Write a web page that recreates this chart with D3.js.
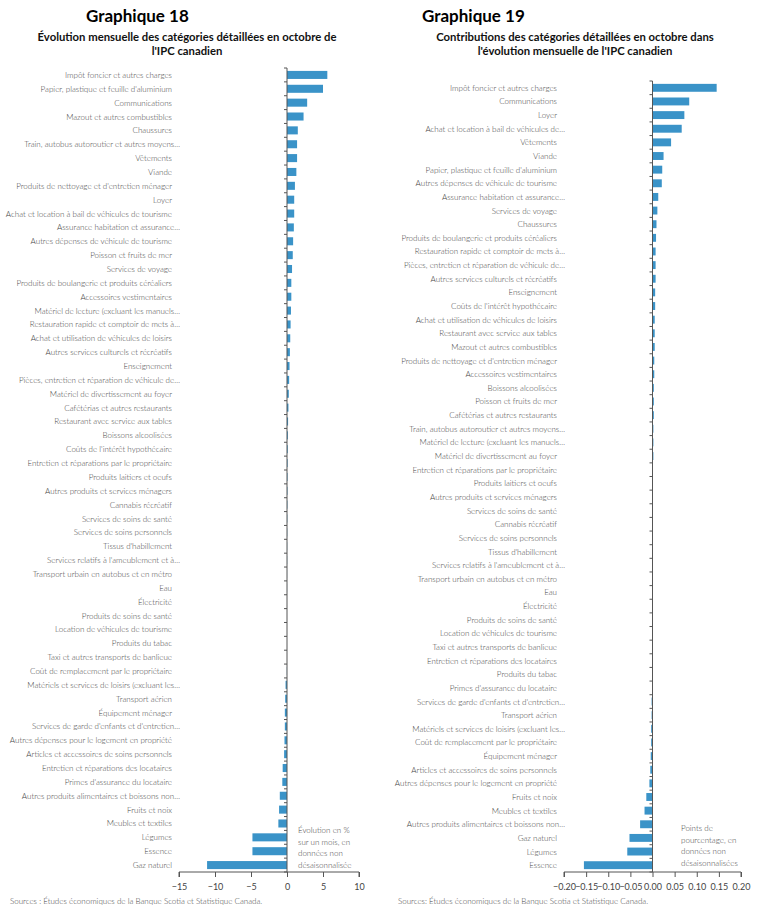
<!DOCTYPE html>
<html><head><meta charset="utf-8">
<script src="https://cdn.jsdelivr.net/npm/d3@7"></script>
<style>body{margin:0;background:#fff;font-family:Lato,"Open Sans",sans-serif}</style>
</head><body><div id="chart"></div>
<script>
// Graphique 18 data
var cats18 = ["Impôt foncier et autres charges","Papier, plastique et feuille d'aluminium","Communications","Mazout et autres combustibles","Chaussures","Train, autobus autoroutier et autres moyens…","Vêtements","Viande","Produits de nettoyage et d'entretien ménager","Loyer","Achat et location à bail de véhicules de tourisme","Assurance habitation et assurance…","Autres dépenses de véhicule de tourisme","Poisson et fruits de mer","Services de voyage","Produits de boulangerie et produits céréaliers","Accessoires vestimentaires","Matériel de lecture (excluant les manuels…","Restauration rapide et comptoir de mets à…","Achat et utilisation de véhicules de loisirs","Autres services culturels et récréatifs","Enseignement","Pièces, entretien et réparation de véhicule de…","Matériel de divertissement au foyer","Cafétérias et autres restaurants","Restaurant avec service aux tables","Boissons alcoolisées","Coûts de l'intérêt hypothécaire","Entretien et réparations par le propriétaire","Produits laitiers et oeufs","Autres produits et services ménagers","Cannabis récréatif","Services de soins de santé","Services de soins personnels","Tissus d'habillement","Services relatifs à l'ameublement et à…","Transport urbain en autobus et en métro","Eau","Électricité","Produits de soins de santé","Location de véhicules de tourisme","Produits du tabac","Taxi et autres transports de banlieue","Coût de remplacement par le propriétaire","Matériels et services de loisirs (excluant les…","Transport aérien","Équipement ménager","Services de garde d'enfants et d'entretien…","Autres dépenses pour le logement en propriété","Articles et accessoires de soins personnels","Entretien et réparations des locataires","Primes d'assurance du locataire","Autres produits alimentaires et boissons non…","Fruits et noix","Meubles et textiles","Légumes","Essence","Gaz naturel"];
var vals18 = [5.6,5.0,2.8,2.3,1.5,1.4,1.4,1.3,1.1,1.0,1.0,0.95,0.85,0.8,0.7,0.6,0.6,0.55,0.5,0.45,0.4,0.35,0.3,0.25,0.2,0.15,0.12,0.1,0.08,0.07,0.06,0.05,0.04,0.03,0.02,0.02,0.01,0.01,0,0,0,0,0,-0.02,-0.2,-0.25,-0.3,-0.3,-0.35,-0.4,-0.6,-0.65,-1.0,-1.1,-1.2,-4.8,-4.8,-11.1];
var ticks18 = [-15,-10,-5,0,5,10];

// Graphique 19 data
var cats19 = ["Impôt foncier et autres charges","Communications","Loyer","Achat et location à bail de véhicules de…","Vêtements","Viande","Papier, plastique et feuille d'aluminium","Autres dépenses de véhicule de tourisme","Assurance habitation et assurance…","Services de voyage","Chaussures","Produits de boulangerie et produits céréaliers","Restauration rapide et comptoir de mets à…","Pièces, entretien et réparation de véhicule de…","Autres services culturels et récréatifs","Enseignement","Coûts de l'intérêt hypothécaire","Achat et utilisation de véhicules de loisirs","Restaurant avec service aux tables","Mazout et autres combustibles","Produits de nettoyage et d'entretien ménager","Accessoires vestimentaires","Boissons alcoolisées","Poisson et fruits de mer","Cafétérias et autres restaurants","Train, autobus autoroutier et autres moyens…","Matériel de lecture (excluant les manuels…","Matériel de divertissement au foyer","Entretien et réparations par le propriétaire","Produits laitiers et oeufs","Autres produits et services ménagers","Services de soins de santé","Cannabis récréatif","Services de soins personnels","Tissus d'habillement","Services relatifs à l'ameublement et à…","Transport urbain en autobus et en métro","Eau","Électricité","Produits de soins de santé","Location de véhicules de tourisme","Taxi et autres transports de banlieue","Entretien et réparations des locataires","Produits du tabac","Primes d'assurance du locataire","Services de garde d'enfants et d'entretien…","Transport aérien","Matériels et services de loisirs (excluant les…","Coût de remplacement par le propriétaire","Équipement ménager","Articles et accessoires de soins personnels","Autres dépenses pour le logement en propriété","Fruits et noix","Meubles et textiles","Autres produits alimentaires et boissons non…","Gaz naturel","Légumes","Essence"];
var vals19 = [0.145,0.083,0.072,0.066,0.042,0.025,0.022,0.021,0.013,0.011,0.009,0.008,0.007,0.007,0.007,0.006,0.006,0.005,0.005,0.005,0.004,0.004,0.003,0.003,0.003,0.002,0.002,0.002,0.001,0.001,0.001,0.001,0.001,0.0005,0.0005,0.0003,0.0002,0.0001,0,0,0,0,-0.0003,-0.0003,-0.0005,-0.002,-0.002,-0.003,-0.003,-0.004,-0.005,-0.007,-0.014,-0.018,-0.028,-0.052,-0.057,-0.155];
var ticks19 = [-0.20,-0.15,-0.10,-0.05,0,0.05,0.10,0.15,0.20];

var svg = d3.select("#chart").append("svg").attr("width",760).attr("height",919);

function drawPanel(o){
  var x = d3.scaleLinear().domain(o.domain).range([o.x0,o.x1]);
  var y = d3.scaleBand().domain(o.cats).range([o.y0,o.y1]).paddingInner(0.42).paddingOuter(0.21);
  var g = svg.append("g");
  g.append("text").attr("x",o.titleX).attr("y",22).attr("font-size",17).attr("font-weight","bold").attr("fill","#000").text(o.title);
  o.sub.forEach(function(s,i){
    g.append("text").attr("x",o.subX).attr("y",41+i*14).attr("text-anchor","middle").attr("font-size",11.3).attr("font-weight","bold").attr("fill","#111").text(s);
  });
  g.selectAll("rect").data(o.vals).enter().append("rect")
    .attr("x",function(d){return x(Math.min(0,d));})
    .attr("width",function(d){return Math.abs(x(d)-x(0));})
    .attr("y",function(d,i){return y(o.cats[i]);})
    .attr("height",y.bandwidth()).attr("fill","#3a93c8");
  g.selectAll("text.lab").data(o.cats).enter().append("text").attr("class","lab")
    .attr("x",function(d){return o.labX + (d.slice(-1)==="…"?8:0);})
    .attr("y",function(d){return y(d)+y.bandwidth()/2+3;})
    .attr("text-anchor","end").attr("font-size",8).attr("font-weight",300).attr("fill","#444").text(function(d){return d;});
  // y axis line with ticks
  var zero = x(0);
  g.append("line").attr("x1",zero).attr("x2",zero).attr("y1",o.y0).attr("y2",o.y1).attr("stroke","#555");
  var step = y.step();
  d3.range(o.cats.length+1).forEach(function(i){
    var yy = o.y0 + i*step;
    g.append("line").attr("x1",zero-3).attr("x2",zero).attr("y1",yy).attr("y2",yy).attr("stroke","#555");
  });
  var ax = g.append("g").attr("transform","translate(0,"+o.y1+")")
    .call(d3.axisBottom(x).tickValues(o.ticks).tickSize(5).tickFormat(o.fmt));
  ax.select(".domain").attr("stroke","#555").attr("d","M"+o.x0+",5V0H"+o.x1+"V5");
  ax.selectAll(".tick line").attr("stroke","#555");
  ax.selectAll(".tick text").attr("font-family","Lato,sans-serif").attr("font-size",9).attr("fill","#444").attr("dy","1.1em");
  o.note.forEach(function(s,i){
    g.append("text").attr("x",o.noteX).attr("y",o.noteY+i*11.5).attr("font-size",8).attr("font-weight",300).attr("fill","#444").text(s);
  });
  g.append("text").attr("x",o.srcX).attr("y",904).attr("font-size",8).attr("font-weight",300).attr("fill","#444").text(o.src);
}

drawPanel({cats:cats18, vals:vals18, ticks:ticks18, domain:[-15,10], x0:179, x1:359, y0:68, y1:872,
  title:"Graphique 18", titleX:86, sub:["Évolution mensuelle des catégories détaillées en octobre de","l'IPC canadien"], subX:187,
  labX:172, fmt:d3.format("d"), note:["Évolution en %","sur un mois, en","données non","désaisonnalisée"], noteX:298, noteY:833,
  srcX:10, src:"Sources : Études économiques de la Banque Scotia et Statistique Canada."});

drawPanel({cats:cats19, vals:vals19, ticks:ticks19, domain:[-0.2,0.2], x0:564, x1:741, y0:81, y1:872,
  title:"Graphique 19", titleX:422, sub:["Contributions des catégories détaillées en octobre dans","l'évolution mensuelle de l'IPC canadien"], subX:575,
  labX:557, fmt:d3.format(".2f"), note:["Points de","pourcentage, en","données non","désaisonnalisées"], noteX:681, noteY:831,
  srcX:398, src:"Sources: Études économiques de la Banque Scotia et Statistique Canada."});
</script></body></html>
